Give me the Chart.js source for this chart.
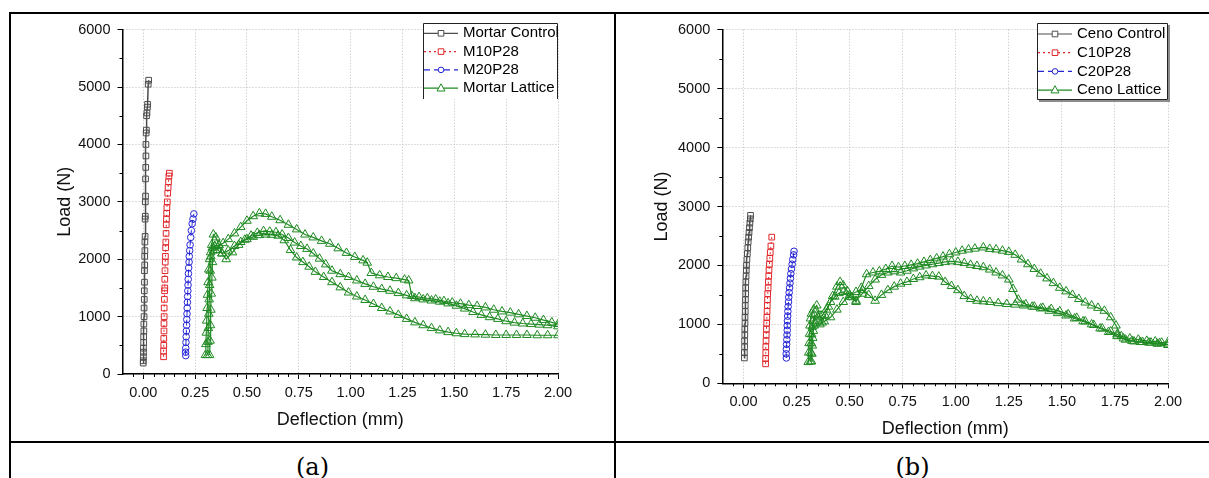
<!DOCTYPE html>
<html>
<head>
<meta charset="utf-8">
<script src="https://cdn.jsdelivr.net/npm/chart.js@4.4.1/dist/chart.umd.min.js"></script>
<style>
  body { margin: 0; background: #fff; width: 1209px; height: 478px; position: relative; overflow: hidden; }
  .rule { position: absolute; background: #000; }
  canvas { position: absolute; }
  .cap { position: absolute; top: 450px; height: 34px; line-height: 34px; text-align: center;
         font-family: "DejaVu Serif", "Liberation Serif", serif; font-size: 24px; color: #000; }
</style>
</head>
<body>
<div class="rule" style="left:9px;top:12px;width:1200px;height:2px"></div>
<div class="rule" style="left:9px;top:12px;width:2px;height:466px"></div>
<div class="rule" style="left:614px;top:12px;width:2px;height:466px"></div>
<div class="rule" style="left:9px;top:441px;width:1200px;height:2px"></div>
<canvas id="chartA" width="603" height="426" style="left:11px;top:14px;width:603px;height:426px"></canvas>
<canvas id="chartB" width="592" height="426" style="left:617px;top:14px;width:592px;height:426px"></canvas>
<div class="cap" style="left:11px;width:603px">(a)</div>
<div class="cap" style="left:616px;width:593px">(b)</div>
<script>
// ---- data, [deflection mm, load N] ----
const mortarControl = [[0.000,190],[0.000,230],[0.001,300],[0.001,380],[0.001,450],[0.002,550],[0.002,650],[0.003,750],[0.003,870],[0.004,1000],[0.004,1150],[0.005,1300],[0.005,1450],[0.006,1600],[0.006,1800],[0.007,1900],[0.007,2050],[0.008,2150],[0.008,2300],[0.009,2400],[0.009,2700],[0.010,2750],[0.010,3000],[0.011,3100],[0.011,3400],[0.012,3600],[0.013,3800],[0.013,4000],[0.014,4200],[0.015,4250],[0.016,4500],[0.018,4550],[0.020,4650],[0.021,4700],[0.024,5050],[0.026,5120]];
const m10p28 = [[0.098,300],[0.098,400],[0.099,500],[0.099,620],[0.100,750],[0.100,880],[0.101,1000],[0.101,1150],[0.102,1300],[0.103,1450],[0.104,1500],[0.104,1650],[0.105,1800],[0.106,1950],[0.107,2050],[0.108,2200],[0.109,2300],[0.110,2450],[0.111,2600],[0.112,2700],[0.113,2800],[0.114,2900],[0.116,3000],[0.118,3150],[0.120,3250],[0.122,3350],[0.124,3450],[0.126,3500]];
const m20p28 = [[0.205,320],[0.204,380],[0.205,450],[0.206,550],[0.207,650],[0.208,750],[0.209,850],[0.210,950],[0.211,1050],[0.212,1150],[0.213,1250],[0.214,1350],[0.215,1450],[0.216,1550],[0.217,1650],[0.218,1750],[0.219,1850],[0.221,1950],[0.222,2050],[0.224,2150],[0.226,2250],[0.229,2380],[0.232,2500],[0.236,2620],[0.240,2700],[0.244,2790]];
const mortarLattice1 = [[0.300,330],[0.302,520],[0.304,720],[0.306,930],[0.308,1150],[0.310,1380],[0.313,1600],[0.316,1820],[0.320,2000],[0.325,2120],[0.333,2200],[0.345,2230],[0.365,2240],[0.385,2280],[0.41,2350],[0.44,2450],[0.47,2560],[0.50,2670],[0.53,2750],[0.56,2800],[0.59,2790],[0.62,2740],[0.66,2680],[0.70,2600],[0.74,2520],[0.78,2430],[0.82,2380],[0.86,2320],[0.90,2270],[0.94,2190],[0.98,2110],[1.02,2040],[1.06,1980],[1.08,1940],[1.10,1760],[1.14,1720],[1.18,1690],[1.22,1670],[1.26,1645],[1.28,1630],[1.295,1360],[1.33,1340],[1.37,1320],[1.41,1300],[1.45,1270],[1.49,1245],[1.53,1225],[1.57,1200],[1.61,1185],[1.65,1160],[1.69,1120],[1.73,1090],[1.77,1070],[1.81,1040],[1.85,1010],[1.89,980],[1.93,940],[1.97,900],[2.00,870]];
const mortarLattice2 = [[0.310,330],[0.312,560],[0.314,800],[0.316,1050],[0.318,1300],[0.320,1550],[0.323,1800],[0.326,2050],[0.330,2250],[0.338,2430],[0.350,2380],[0.365,2250],[0.38,2100],[0.40,2000],[0.43,2120],[0.46,2250],[0.49,2340],[0.52,2410],[0.55,2460],[0.58,2490],[0.61,2480],[0.64,2470],[0.67,2430],[0.70,2370],[0.73,2290],[0.76,2230],[0.79,2180],[0.82,2100],[0.85,2010],[0.88,1910],[0.91,1800],[0.95,1740],[0.99,1690],[1.03,1630],[1.07,1570],[1.11,1520],[1.15,1480],[1.19,1450],[1.23,1410],[1.27,1370],[1.31,1320],[1.35,1300],[1.39,1280],[1.43,1260],[1.47,1230],[1.51,1190],[1.55,1140],[1.59,1080],[1.63,1030],[1.67,990],[1.71,960],[1.75,920],[1.79,895],[1.83,880],[1.87,870],[1.91,860],[1.95,850],[2.00,830]];
const mortarLattice3 = [[0.320,330],[0.322,580],[0.324,850],[0.326,1120],[0.328,1400],[0.331,1680],[0.334,1950],[0.338,2150],[0.345,2220],[0.36,2160],[0.38,2100],[0.41,2150],[0.44,2230],[0.47,2300],[0.50,2350],[0.53,2390],[0.56,2420],[0.59,2430],[0.62,2425],[0.65,2410],[0.68,2330],[0.71,2160],[0.74,2030],[0.77,1950],[0.80,1870],[0.83,1780],[0.87,1690],[0.91,1600],[0.95,1510],[0.99,1420],[1.03,1350],[1.07,1290],[1.11,1220],[1.15,1150],[1.19,1090],[1.23,1030],[1.27,960],[1.31,900],[1.35,850],[1.39,800],[1.43,760],[1.47,730],[1.51,710],[1.55,695],[1.60,690],[1.65,685],[1.70,680],[1.75,680],[1.80,680],[1.85,680],[1.90,675],[1.95,675],[2.00,675]];

const cenoControl = [[0.004,430],[0.004,520],[0.005,620],[0.005,720],[0.006,820],[0.006,920],[0.007,1020],[0.007,1120],[0.008,1220],[0.008,1320],[0.009,1420],[0.010,1520],[0.010,1620],[0.011,1720],[0.012,1820],[0.013,1920],[0.014,2000],[0.016,2100],[0.018,2200],[0.020,2300],[0.022,2400],[0.024,2480],[0.026,2560],[0.028,2640],[0.030,2720],[0.032,2790],[0.033,2850]];
const c10p28 = [[0.104,330],[0.104,420],[0.105,520],[0.105,620],[0.106,720],[0.107,820],[0.108,920],[0.109,1020],[0.110,1120],[0.111,1220],[0.112,1320],[0.113,1420],[0.114,1520],[0.116,1620],[0.117,1720],[0.119,1820],[0.120,1920],[0.122,2020],[0.124,2120],[0.126,2220],[0.129,2330],[0.133,2480]];
const c20p28 = [[0.202,430],[0.201,500],[0.202,580],[0.203,660],[0.204,740],[0.205,820],[0.206,900],[0.206,980],[0.207,1060],[0.208,1140],[0.209,1220],[0.210,1300],[0.212,1380],[0.213,1460],[0.215,1540],[0.217,1620],[0.219,1700],[0.221,1780],[0.223,1860],[0.226,1940],[0.229,2020],[0.232,2100],[0.236,2180],[0.238,2240]];
const cenoLattice1 = [[0.305,360],[0.307,520],[0.309,680],[0.311,840],[0.313,980],[0.316,1100],[0.320,1180],[0.330,1250],[0.345,1320],[0.360,1150],[0.370,1030],[0.385,1150],[0.40,1300],[0.42,1480],[0.44,1640],[0.455,1720],[0.47,1660],[0.49,1560],[0.51,1460],[0.53,1380],[0.555,1620],[0.58,1850],[0.61,1880],[0.64,1900],[0.67,1940],[0.70,1990],[0.73,1970],[0.76,1990],[0.79,2010],[0.82,2030],[0.85,2060],[0.88,2090],[0.91,2120],[0.94,2150],[0.97,2190],[1.00,2220],[1.03,2250],[1.06,2270],[1.09,2285],[1.13,2305],[1.16,2280],[1.19,2270],[1.22,2250],[1.25,2230],[1.28,2180],[1.31,2100],[1.34,2020],[1.37,1940],[1.40,1860],[1.43,1780],[1.46,1700],[1.49,1620],[1.52,1560],[1.55,1500],[1.58,1430],[1.61,1370],[1.64,1320],[1.67,1280],[1.70,1230],[1.73,1120],[1.755,980],[1.78,800],[1.82,760],[1.86,740],[1.90,720],[1.94,710],[1.97,690],[2.00,700]];
const cenoLattice2 = [[0.315,370],[0.317,520],[0.319,680],[0.321,830],[0.324,960],[0.328,1060],[0.335,1150],[0.35,1120],[0.37,1150],[0.39,1250],[0.41,1380],[0.43,1470],[0.45,1530],[0.47,1550],[0.50,1470],[0.53,1400],[0.56,1520],[0.59,1650],[0.62,1760],[0.65,1840],[0.68,1880],[0.71,1900],[0.74,1880],[0.77,1910],[0.80,1950],[0.83,1980],[0.86,2000],[0.89,2020],[0.92,2040],[0.95,2060],[0.98,2070],[1.01,2060],[1.04,2040],[1.07,2010],[1.10,1990],[1.13,1970],[1.16,1930],[1.19,1880],[1.22,1830],[1.25,1760],[1.27,1600],[1.295,1420],[1.33,1340],[1.37,1300],[1.41,1280],[1.45,1260],[1.49,1220],[1.53,1170],[1.57,1110],[1.61,1050],[1.65,990],[1.69,930],[1.73,880],[1.76,830],[1.79,760],[1.83,720],[1.87,700],[1.91,690],[1.95,670],[2.00,650]];
const cenoLattice3 = [[0.320,370],[0.322,500],[0.324,640],[0.326,770],[0.329,890],[0.333,980],[0.34,1020],[0.36,1000],[0.38,1050],[0.41,1120],[0.44,1250],[0.47,1380],[0.50,1500],[0.53,1550],[0.56,1580],[0.59,1500],[0.62,1400],[0.65,1500],[0.68,1580],[0.71,1640],[0.74,1690],[0.77,1720],[0.80,1770],[0.83,1800],[0.86,1830],[0.89,1820],[0.92,1810],[0.95,1720],[0.98,1650],[1.01,1580],[1.04,1480],[1.07,1430],[1.10,1400],[1.13,1390],[1.16,1380],[1.20,1360],[1.24,1345],[1.28,1335],[1.32,1320],[1.36,1300],[1.40,1270],[1.44,1230],[1.48,1190],[1.52,1150],[1.56,1100],[1.60,1050],[1.64,1000],[1.68,930],[1.72,870],[1.76,800],[1.80,740],[1.84,710],[1.88,700],[1.92,690],[1.96,680],[2.00,660]];

const xTickValues = [0, 0.25, 0.5, 0.75, 1, 1.25, 1.5, 1.75, 2];
const yTickValues = [0, 1000, 2000, 3000, 4000, 5000, 6000];

const GREY = '#4d4d4d', RED = '#e0262a', BLUE = '#2424d6', GREEN = '#1f8a22';
const FONT = '"Liberation Sans", Arial, sans-serif';

function series(label, pairs, color, style, dash, radius, lw, inLegend) {
  return {
    label: label,
    data: pairs.map(p => ({ x: p[0], y: p[1] })),
    showLine: true,
    borderColor: color,
    borderWidth: lw,
    borderDash: dash,
    pointStyle: style,
    pointRadius: radius,
    pointBorderWidth: 1,
    pointBorderColor: color,
    pointBackgroundColor: 'rgba(0,0,0,0)',
    inLegend: inLegend
  };
}

function marker(ctx, style, x, y, r) {
  ctx.beginPath();
  if (style === 'rect') ctx.rect(x - r, y - r, 2 * r, 2 * r);
  else if (style === 'circle') ctx.arc(x, y, r, 0, Math.PI * 2);
  else { ctx.moveTo(x, y - r * 1.1); ctx.lineTo(x + r, y + r * 0.7); ctx.lineTo(x - r, y + r * 0.7); ctx.closePath(); }
  ctx.fill();
  ctx.stroke();
}

// legend box drawn inside the plot, Origin style
const boxLegend = {
  id: 'boxLegend',
  afterDraw(chart, args, o) {
    const ctx = chart.ctx;
    const items = chart.data.datasets.filter(d => d.inLegend);
    ctx.save();
    if (o.shadow) {
      ctx.fillStyle = '#8c8c8c';
      ctx.fillRect(o.left + 2, o.top + 2, o.right - o.left, o.bottom - o.top);
    }
    ctx.fillStyle = '#fff';
    ctx.fillRect(o.left, o.top, o.right - o.left, o.bottom - o.top);
    ctx.strokeStyle = '#222';
    ctx.lineWidth = 1;
    ctx.beginPath();
    if (o.closed) {
      ctx.rect(o.left + 0.5, o.top + 0.5, o.right - o.left - 1, o.bottom - o.top - 1);
    } else {
      ctx.moveTo(o.left + 0.5, o.bottom);
      ctx.lineTo(o.left + 0.5, o.top + 0.5);
      ctx.lineTo(o.right - 0.5, o.top + 0.5);
      ctx.lineTo(o.right - 0.5, o.bottom);
    }
    ctx.stroke();
    items.forEach((d, i) => {
      const y = o.rowTop + i * o.rowGap;
      const x0 = o.left + 1, x1 = x0 + o.sample, xm = (x0 + x1) / 2;
      ctx.strokeStyle = d.borderColor;
      ctx.lineWidth = 1.2;
      ctx.setLineDash(d.borderDash || []);
      ctx.beginPath(); ctx.moveTo(x0, y); ctx.lineTo(x1, y); ctx.stroke();
      ctx.setLineDash([]);
      ctx.fillStyle = '#fff';
      ctx.lineWidth = 1;
      marker(ctx, d.pointStyle, xm, y, d.pointStyle === 'triangle' ? 4 : 2.8);
      ctx.fillStyle = '#000';
      ctx.font = '15px ' + FONT;
      ctx.textBaseline = 'middle';
      ctx.textAlign = 'left';
      ctx.fillText(d.label, x1 + o.gap, y);
    });
    ctx.restore();
  }
};

// small ticks between the labelled ones
const minorTicks = {
  id: 'minorTicks',
  afterDraw(chart) {
    const { ctx, chartArea, scales } = chart;
    ctx.save();
    ctx.strokeStyle = '#000';
    ctx.lineWidth = 1;
    ctx.beginPath();
    for (let i = -1; i <= 39; i++) {
      if (i % 5 === 0) continue;
      const px = Math.round(scales.x.getPixelForValue(i * 0.05)) + 0.5;
      ctx.moveTo(px, chartArea.bottom);
      ctx.lineTo(px, chartArea.bottom + 3);
    }
    for (let i = 1; i < 12; i += 2) {
      const py = Math.round(scales.y.getPixelForValue(i * 500)) + 0.5;
      ctx.moveTo(chartArea.left - 3, py);
      ctx.lineTo(chartArea.left, py);
    }
    ctx.stroke();
    ctx.restore();
  }
};

function makeChart(id, datasets, g) {
  const grid = {
    color: '#bdbdbd', lineWidth: 1, drawTicks: true, tickLength: 5,
    tickColor: '#000', tickWidth: 1, tickBorderDash: []
  };
  return new Chart(document.getElementById(id), {
    type: 'scatter',
    data: { datasets: datasets },
    plugins: [boxLegend, minorTicks],
    options: {
      responsive: false,
      devicePixelRatio: 1,
      animation: false,
      events: [],
      layout: { padding: { top: g.padTop, right: g.padRight, left: 0, bottom: 0 } },
      plugins: {
        legend: { display: false },
        tooltip: { enabled: false },
        boxLegend: g.legend
      },
      scales: {
        x: {
          type: 'linear', min: -0.1, max: 2.0,
          afterBuildTicks: s => { s.ticks = xTickValues.map(v => ({ value: v })); },
          afterFit: s => { s.height = g.xHeight; },
          ticks: { autoSkip: false, maxRotation: 0, padding: 5, color: '#111',
                   font: { family: FONT, size: 14.5 }, callback: v => Number(v).toFixed(2) },
          grid: grid,
          border: { display: true, color: '#000', width: 1.5, dash: [1, 2] },
          title: { display: true, text: 'Deflection (mm)', color: '#111',
                   font: { family: FONT, size: 18 }, padding: { top: 0, bottom: g.xTitlePad } }
        },
        y: {
          type: 'linear', min: 0, max: 6000,
          afterBuildTicks: s => { s.ticks = yTickValues.map(v => ({ value: v })); },
          afterFit: s => { s.width = g.yWidth; },
          ticks: { padding: 7, color: '#111', font: { family: FONT, size: 14.5 },
                   callback: v => String(v) },
          grid: grid,
          border: { display: true, color: '#000', width: 1.5, dash: [1, 2] },
          title: { display: true, text: 'Load (N)', color: '#111',
                   font: { family: FONT, size: 18 }, padding: { top: g.yTitlePad, bottom: 0 } }
        }
      }
    }
  });
}

makeChart('chartA', [
  series('Mortar Control', mortarControl, GREY, 'rect', [], 4, 1.5, true),
  series('M10P28', m10p28, RED, 'rect', [2, 3], 4, 1, true),
  series('M20P28', m20p28, BLUE, 'circle', [6, 4], 3.3, 1, true),
  series('Mortar Lattice', mortarLattice1, GREEN, 'triangle', [], 5, 1.2, true),
  series('Mortar Lattice', mortarLattice2, GREEN, 'triangle', [], 5, 1.2, false),
  series('Mortar Lattice', mortarLattice3, GREEN, 'triangle', [], 5, 1.2, false)
], {
  padTop: 9.5, padRight: 56, yWidth: 111.5, xHeight: 66, xTitlePad: 9.2, yTitlePad: 43,
  legend: { left: 412, right: 547, top: 9, bottom: 85, rowTop: 19.3, rowGap: 18.3, sample: 34, gap: 5, closed: false, shadow: false }
});

makeChart('chartB', [
  series('Ceno Control', cenoControl, GREY, 'rect', [], 4, 1.5, true),
  series('C10P28', c10p28, RED, 'rect', [2, 3], 4, 1, true),
  series('C20P28', c20p28, BLUE, 'circle', [6, 4], 3.3, 1, true),
  series('Ceno Lattice', cenoLattice1, GREEN, 'triangle', [], 5, 1.2, true),
  series('Ceno Lattice', cenoLattice2, GREEN, 'triangle', [], 5, 1.2, false),
  series('Ceno Lattice', cenoLattice3, GREEN, 'triangle', [], 5, 1.2, false)
], {
  padTop: 9.3, padRight: 41, yWidth: 105.3, xHeight: 56.7, xTitlePad: 0, yTitlePad: 34,
  legend: { left: 420, right: 551, top: 9, bottom: 86, rowTop: 20, rowGap: 18.7, sample: 34, gap: 5, closed: true, shadow: true }
});
</script>
</body>
</html>
